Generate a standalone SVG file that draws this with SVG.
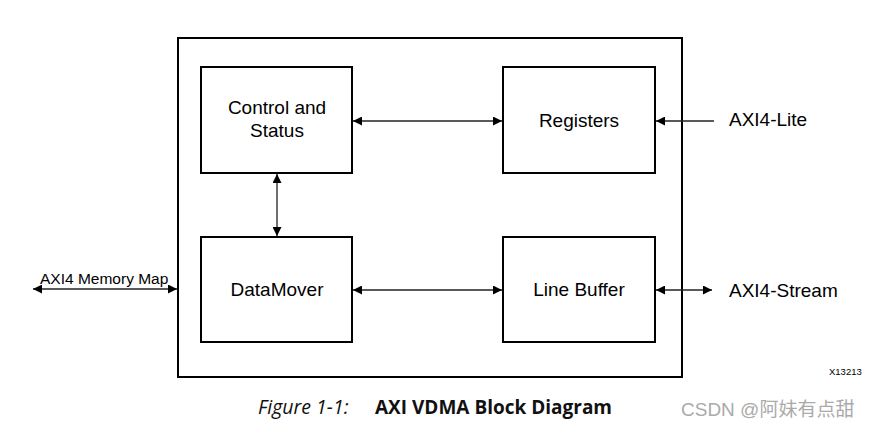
<svg xmlns="http://www.w3.org/2000/svg" width="870" height="431" viewBox="0 0 870 431">
<style>
.box{fill:#fff;stroke:#000;stroke-width:2}
.lbl{font-family:"Liberation Sans",Arial,sans-serif;font-size:19px;fill:#000}
.ln{stroke:#222;stroke-width:1.3;fill:none;marker-start:url(#ah);marker-end:url(#ah)}
.ln1{stroke:#222;stroke-width:1.3;fill:none;marker-end:url(#ah)}
</style>
<defs>
<marker id="ah" viewBox="0 0 10 10" refX="10" refY="5" markerWidth="13" markerHeight="9" markerUnits="userSpaceOnUse" orient="auto-start-reverse">
<path d="M0,0 L10,5 L0,10 Z" fill="#000"/>
</marker>
</defs>
<rect width="870" height="431" fill="#fff"/>
<g id="outer"><rect class="box" x="178" y="38" width="504" height="339"/></g>
<g id="control"><rect class="box" x="201" y="67" width="151" height="106"/>
<text class="lbl" x="277" y="114" text-anchor="middle">Control and</text>
<text class="lbl" x="277" y="137" text-anchor="middle">Status</text></g>
<g id="registers"><rect class="box" x="503" y="67" width="152" height="106"/>
<text class="lbl" x="579" y="127" text-anchor="middle">Registers</text></g>
<g id="datamover"><rect class="box" x="201" y="237" width="151" height="105"/>
<text class="lbl" x="277" y="296" text-anchor="middle">DataMover</text></g>
<g id="linebuffer"><rect class="box" x="503" y="237" width="152" height="105"/>
<text class="lbl" x="579" y="296" text-anchor="middle">Line Buffer</text></g>
<g id="connectors">
<line class="ln" x1="353" y1="121" x2="502" y2="121"/>
<line class="ln" x1="277" y1="174" x2="277" y2="236"/>
<line class="ln" x1="353" y1="290" x2="502" y2="290"/>
<line class="ln1" x1="714" y1="121" x2="656" y2="121"/>
<line class="ln" x1="656" y1="290" x2="712" y2="290"/>
<line class="ln" x1="33" y1="289" x2="177" y2="289"/>
</g>
<text x="40" y="284" font-family="'Liberation Sans',Arial,sans-serif" font-size="15.5">AXI4 Memory Map</text>
<text class="lbl" x="729" y="126">AXI4-Lite</text>
<text class="lbl" x="729" y="297">AXI4-Stream</text>
<text x="829" y="375" font-family="'Liberation Sans',Arial,sans-serif" font-size="9.5">X13213</text>
<text x="258" y="414" font-family="'Open Sans','Noto Sans',sans-serif" font-size="19.5" font-style="italic" fill="#111">Figure 1-1:</text>
<text x="375" y="414" font-family="'Open Sans','Noto Sans',sans-serif" font-size="19" font-weight="bold" fill="#111">AXI VDMA Block Diagram</text>
<text x="681" y="416" font-family="'Liberation Sans','Noto Sans CJK SC',sans-serif" font-size="19" fill="#aaa">CSDN @阿妹有点甜</text>
</svg>
